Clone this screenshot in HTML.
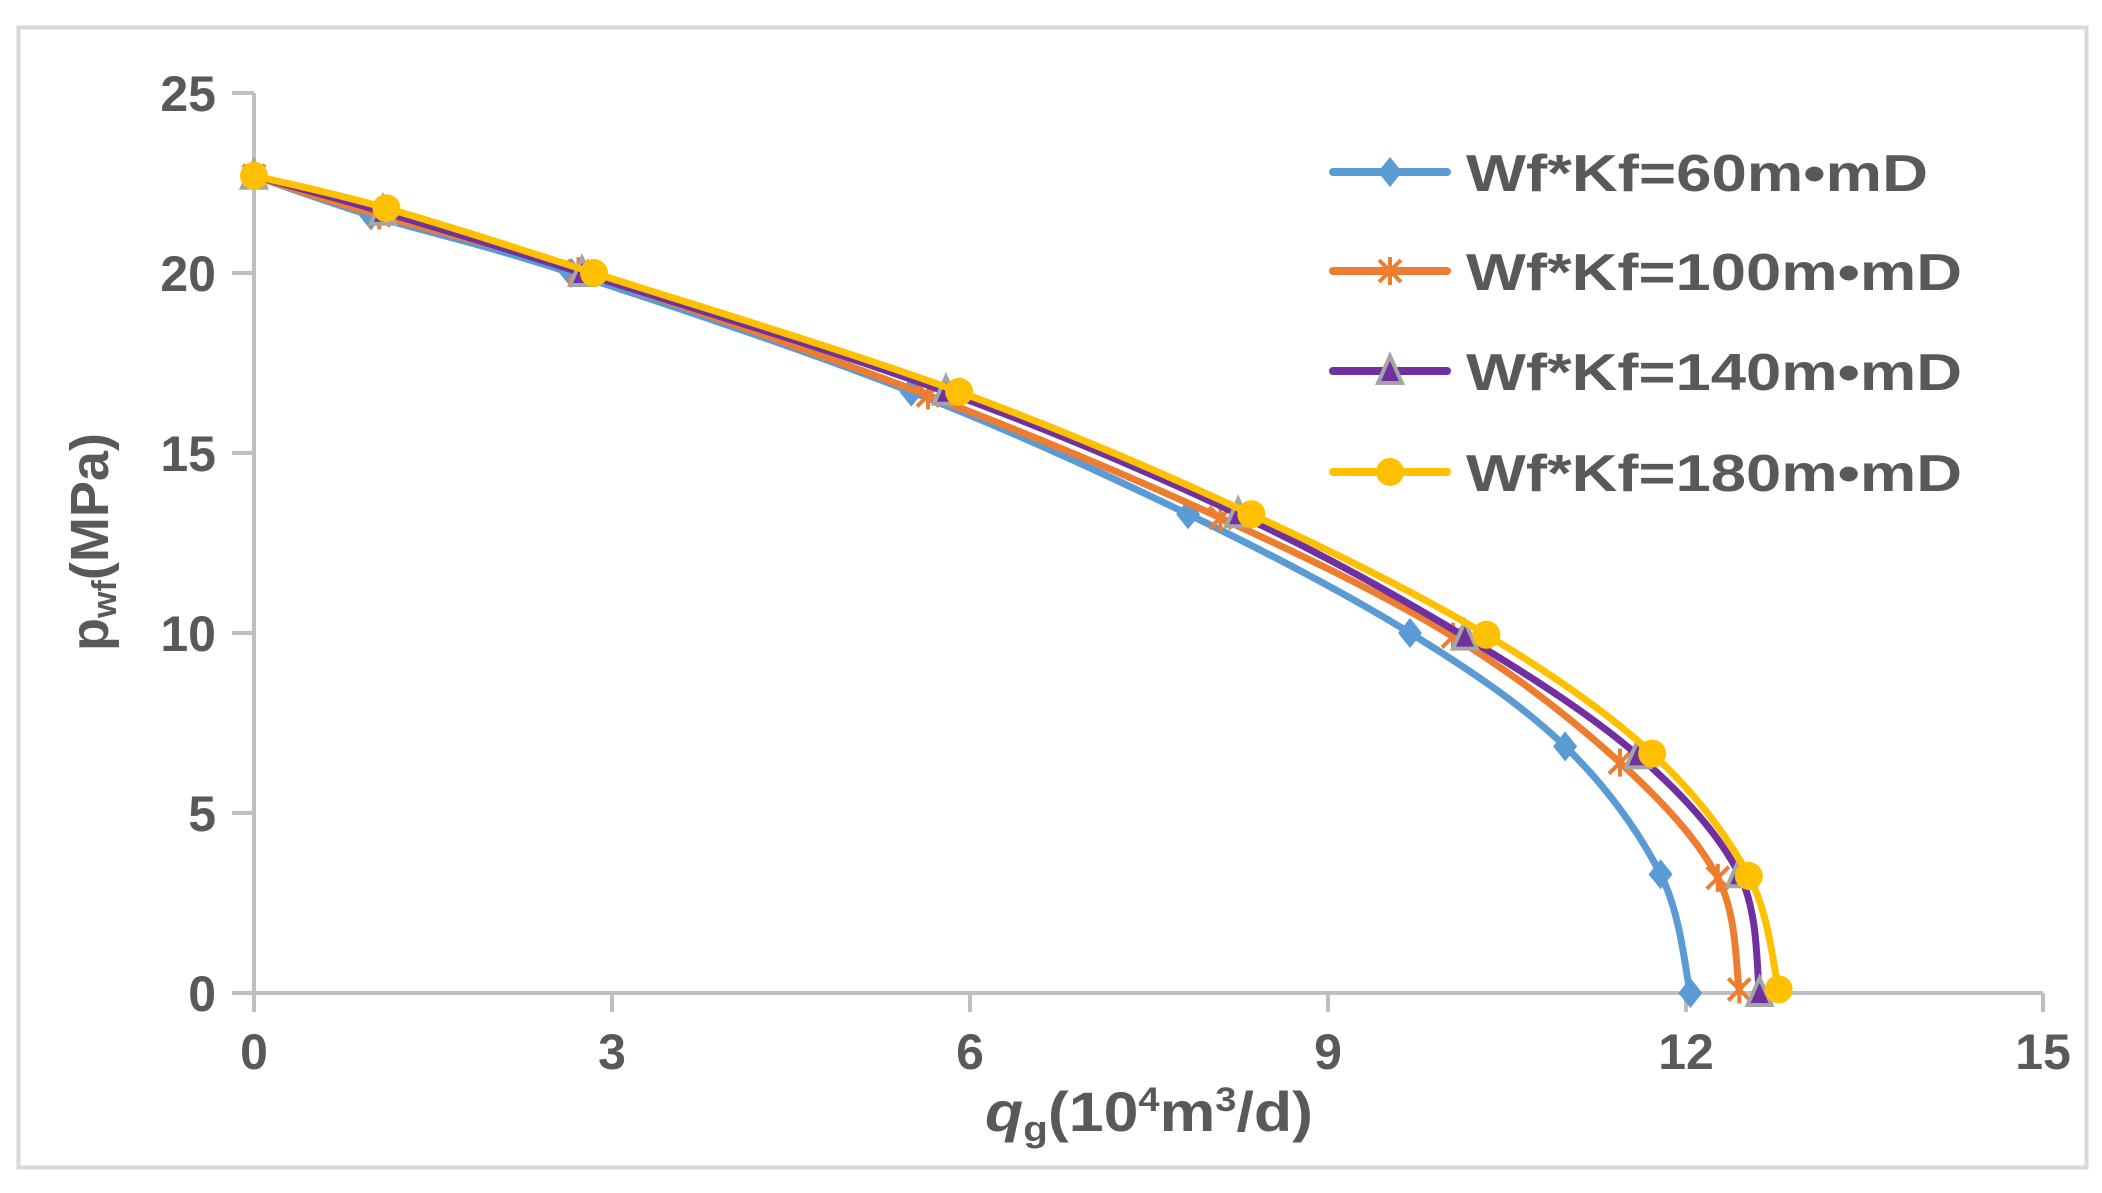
<!DOCTYPE html>
<html><head><meta charset="utf-8"><style>
html,body{margin:0;padding:0;background:#fff}
svg{display:block}
text{font-family:"Liberation Sans","DejaVu Sans",sans-serif;font-weight:bold;fill:#595959}
</style></head><body>
<svg id="s" width="2102" height="1193" viewBox="0 0 2102 1193" xmlns="http://www.w3.org/2000/svg">
<rect x="0" y="0" width="2102" height="1193" fill="#fff"/>
<rect x="18.5" y="27.5" width="2068" height="1140" fill="none" stroke="#d9d9d9" stroke-width="4"/>
<g stroke="#bfbfbf" stroke-width="4" fill="none">
<line x1="254" y1="93" x2="254" y2="1012"/>
<line x1="232" y1="993" x2="2043" y2="993"/>
<line x1="232" y1="93" x2="254" y2="93"/>
<line x1="232" y1="273" x2="254" y2="273"/>
<line x1="232" y1="453" x2="254" y2="453"/>
<line x1="232" y1="633" x2="254" y2="633"/>
<line x1="232" y1="813" x2="254" y2="813"/>
<line x1="612" y1="993" x2="612" y2="1012"/>
<line x1="970" y1="993" x2="970" y2="1012"/>
<line x1="1328" y1="993" x2="1328" y2="1012"/>
<line x1="1686" y1="993" x2="1686" y2="1012"/>
<line x1="2043" y1="993" x2="2043" y2="1012"/>
</g>
<g font-size="50" text-anchor="end">
<text x="216" y="111">25</text>
<text x="216" y="291">20</text>
<text x="216" y="471">15</text>
<text x="216" y="651">10</text>
<text x="216" y="831">5</text>
<text x="216" y="1011">0</text>
</g>
<g font-size="50" text-anchor="middle">
<text x="254" y="1069">0</text>
<text x="612" y="1069">3</text>
<text x="970" y="1069">6</text>
<text x="1328" y="1069">9</text>
<text x="1686" y="1069">12</text>
<text x="2043" y="1069">15</text>
</g>
<text x="985" y="1131" font-size="56" textLength="328" lengthAdjust="spacingAndGlyphs"><tspan font-style="italic">q</tspan><tspan font-size="36" dy="10">g</tspan><tspan dy="-10">(10</tspan><tspan font-size="34" dy="-20">4</tspan><tspan dy="20">m</tspan><tspan font-size="34" dy="-20">3</tspan><tspan dy="20">/d)</tspan></text>
<text transform="translate(108,651) rotate(-90)" font-size="54" textLength="218" lengthAdjust="spacingAndGlyphs">p<tspan font-size="34" dy="8">wf</tspan><tspan dy="-8">(MPa)</tspan></text>
<g id="series"></g>
<g id="legend"></g>
</svg>
<script>
var X=function(q){return 254+119.3*q},Y=function(p){return 993-36*p};
var S=[
 {c:"#5b9bd5",m:"d",q:[0,0.98,2.66,5.51,7.83,9.69,10.99,11.79,12.04],p:[22.7,21.6,20.0,16.7,13.3,10.0,6.85,3.3,0]},
 {c:"#ed7d31",m:"x",q:[0,1.05,2.72,5.65,8.1,10.05,11.45,12.27,12.45],p:[22.7,21.6,20.05,16.6,13.2,9.9,6.4,3.2,0.1]},
 {c:"#7030a0",m:"t",q:[0,1.08,2.75,5.8,8.25,10.15,11.6,12.45,12.62],p:[22.7,21.7,20.0,16.7,13.3,9.9,6.6,3.3,0]},
 {c:"#ffc000",m:"o",q:[0,1.11,2.85,5.91,8.36,10.33,11.72,12.53,12.78],p:[22.7,21.8,20.0,16.7,13.3,9.95,6.65,3.25,0.1]}
];
var NS="http://www.w3.org/2000/svg";
function el(t,a,par){var e=document.createElementNS(NS,t);for(var k in a)e.setAttribute(k,a[k]);par.appendChild(e);return e;}
function marker(m,x,y,c,par){
 if(m=="d")el("polygon",{points:(x)+","+(y-15)+" "+(x+12)+","+y+" "+x+","+(y+15)+" "+(x-12)+","+y,fill:c},par);
 else if(m=="x"){var g=el("g",{stroke:c,"stroke-width":4},par);
  el("line",{x1:x-11,y1:y-11,x2:x+11,y2:y+11},g);el("line",{x1:x-11,y1:y+11,x2:x+11,y2:y-11},g);el("line",{x1:x,y1:y-14,x2:x,y2:y+14},g);}
 else if(m=="t")el("polygon",{points:x+","+(y-15)+" "+(x+12)+","+(y+12)+" "+(x-12)+","+(y+12),fill:"#7030a0",stroke:"#a5a5a5","stroke-width":4},par);
 else el("circle",{cx:x,cy:y,r:14,fill:c},par);
}
var G=document.getElementById("series");
S.forEach(function(s){
 var P=s.q.map(function(q,i){return [X(q),Y(s.p[i])]});
 var d="M"+P[0][0]+","+P[0][1];
 for(var i=0;i<P.length-1;i++){
  var p0=P[Math.max(i-1,0)],p1=P[i],p2=P[i+1],p3=P[Math.min(i+2,P.length-1)];
  var t=6;
  d+=" C"+(p1[0]+(p2[0]-p0[0])/t)+","+(p1[1]+(p2[1]-p0[1])/t)+" "+(p2[0]-(p3[0]-p1[0])/t)+","+(p2[1]-(p3[1]-p1[1])/t)+" "+p2[0]+","+p2[1];
 }
 el("path",{d:d,fill:"none",stroke:s.c,"stroke-width":7,"stroke-linejoin":"round"},G);
 P.forEach(function(pt){marker(s.m,pt[0],pt[1],s.c,G)});
});
var L=document.getElementById("legend");
var names=["Wf*Kf=60m•mD","Wf*Kf=100m•mD","Wf*Kf=140m•mD","Wf*Kf=180m•mD"];
var ly=[172,271,371,472],tl=[462,496,496,496];
S.forEach(function(s,i){
 el("line",{x1:1333,y1:ly[i],x2:1447,y2:ly[i],stroke:s.c,"stroke-width":8,"stroke-linecap":"round"},L);
 marker(s.m,1390,ly[i],s.c,L);
 var t=el("text",{x:1466,y:ly[i]+19,"font-size":52,textLength:tl[i],lengthAdjust:"spacingAndGlyphs"},L);
 t.textContent=names[i];
});
</script>
</body></html>
